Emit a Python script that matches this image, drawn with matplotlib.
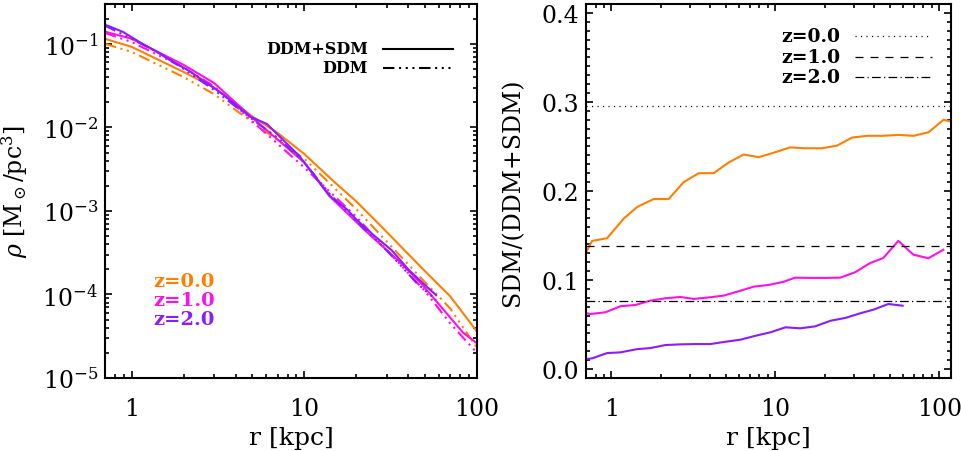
import numpy as np
import matplotlib
matplotlib.use("Agg")
import matplotlib.pyplot as plt
from matplotlib.ticker import LogLocator, MultipleLocator, FixedLocator, NullFormatter

plt.rcParams['font.family'] = ['DejaVu Serif']
plt.rcParams['mathtext.fontset'] = 'dejavuserif'

# ---- left panel: density profiles ----
r_z0 = [0.7, 1, 2, 3, 5, 7, 10, 15, 20, 30, 50, 70, 100]
rho_z0_all = [0.115, 0.092, 0.046, 0.030, 0.0135, 0.0086, 0.0048, 0.0022, 0.0013, 5.6e-4, 1.9e-4, 9.5e-5, 3.6e-5]
r_z0_ddm = [0.7, 1, 2, 3, 5, 10, 20, 30, 50, 70, 100]
rho_z0_ddm = [0.1, 0.080, 0.040, 0.025, 0.0115, 0.0042, 0.00105, 4.3e-4, 1.4e-4, 6.8e-5, 2.3e-5]

r_z1 = [0.7, 1, 2, 3, 5, 10, 14.6, 23, 35.7, 46.7, 61, 83, 100]
rho_z1_all = [0.14, 0.115, 0.056, 0.034, 0.013, 0.0038, 1.38e-3, 5.6e-4, 2.45e-4, 1.41e-4, 7.4e-5, 3.5e-5, 2.6e-5]
r_z1_ddm = [0.7, 1, 2, 3, 5, 10, 20, 30, 50, 70, 100]
rho_z1_ddm = [0.135, 0.105, 0.052, 0.031, 0.0118, 0.0033, 8.5e-4, 3.4e-4, 1.1e-4, 4.5e-5, 2.0e-5]

r_z2 = [0.7, 0.89, 1.11, 1.4, 1.59, 2.17, 3.37, 4.83, 6.07, 9.4, 11.8, 14.0, 17.6, 20, 25, 32, 40, 48, 58]
rho_z2_all = [0.17, 0.139, 0.105, 0.080, 0.068, 0.047, 0.025, 0.0135, 0.011, 0.0045, 0.0024, 0.0015, 0.00105,
              7.9e-4, 5.2e-4, 3.4e-4, 2.0e-4, 1.4e-4, 9.8e-5]
r_z2_ddm = [0.7, 1, 1.5, 2, 3, 5, 7, 10, 14, 18, 22, 28, 35, 45, 58]
rho_z2_ddm = [0.165, 0.115, 0.074, 0.050, 0.028, 0.0125, 0.0075, 0.0038, 0.0016, 9.5e-4, 6.2e-4, 3.9e-4, 2.4e-4,
              1.35e-4, 8.6e-5]

# ---- right panel: SDM fraction ----
r_f0 = [0.704, 0.763, 0.941, 1.188, 1.435, 1.81, 2.236, 2.76, 3.41, 4.21, 5.19, 6.41, 7.91, 9.77, 12.3,
        15.2, 19.3, 23.8, 29.4, 36.3, 44.8, 56.5, 69.7, 86.1, 106.3, 118.3]
f_z0 = [0.132, 0.144, 0.147, 0.169, 0.182, 0.191, 0.191, 0.210, 0.220, 0.220, 0.232, 0.241, 0.238, 0.243, 0.249,
        0.248, 0.248, 0.251, 0.260, 0.262, 0.262, 0.263, 0.262, 0.266, 0.280, 0.278]
r_f1 = [0.704, 0.745, 0.919, 1.135, 1.40, 1.73, 2.13, 2.63, 3.18, 4.01, 4.84, 6.12, 7.39, 9.1, 11.2,
        13.2, 16.4, 20.2, 24.9, 30.7, 37.8, 45.6, 56.3, 69.6, 85.9, 106]
f_z1 = [0.0627, 0.0619, 0.0638, 0.0706, 0.072, 0.0769, 0.0795, 0.081, 0.0788, 0.0807, 0.0825, 0.088, 0.0926,
        0.0945, 0.098, 0.1027, 0.1024, 0.1024, 0.1027, 0.1088, 0.119, 0.1248, 0.144, 0.1285, 0.1245, 0.134]
r_f2 = [0.704, 0.763, 0.942, 1.135, 1.434, 1.728, 2.133, 2.634, 3.252, 4.015, 4.957, 6.12, 7.56, 9.33, 11.52,
        14.2, 17.5, 21.7, 26.7, 33.0, 39.6, 48.9, 59.8]
f_z2 = [0.0113, 0.0121, 0.018, 0.0188, 0.0224, 0.0236, 0.027, 0.0278, 0.0281, 0.0281, 0.0307, 0.033, 0.0374,
        0.0413, 0.0469, 0.0458, 0.048, 0.0543, 0.0574, 0.0627, 0.0667, 0.0731, 0.0712]

f_cosmic = [0.295, 0.138, 0.0765]
z_labels = ['z=0.0', 'z=1.0', 'z=2.0']
colors = ['#ff7f00', '#ff10e8', '#8a1cff']
ddm_style = (0, (5.5, 2.2, 1, 2.2, 1, 2.2, 1, 2.2))
ref_styles = [(0, (0.9, 3.5)), (0, (6.4, 5.6)), (0, (7, 2.6, 1, 2.6))]

fig = plt.figure(figsize=(9.61, 4.52), dpi=100)
ax1 = fig.add_axes([0.1093, 0.1615, 0.387, 0.8274])
ax2 = fig.add_axes([0.6098, 0.1615, 0.3798, 0.8274])

lw = 1.5
ax1.plot(r_z0, rho_z0_all, color=colors[0], lw=lw)
ax1.plot(r_z0_ddm, rho_z0_ddm, color=colors[0], lw=lw, ls=ddm_style)
ax1.plot(r_z1, rho_z1_all, color=colors[1], lw=lw)
ax1.plot(r_z1_ddm, rho_z1_ddm, color=colors[1], lw=lw, ls=ddm_style)
ax1.plot(r_z2, rho_z2_all, color=colors[2], lw=lw)
ax1.plot(r_z2_ddm, rho_z2_ddm, color=colors[2], lw=lw, ls=ddm_style)

ax1.set_xscale('log')
ax1.set_yscale('log')
ax1.set_xlim(0.7, 100)
ax1.set_ylim(1e-5, 0.3)
ax1.set_xticks([1, 10, 100])
ax1.set_xticklabels(['1', '10', '100'])
ax1.set_xlabel('r [kpc]', fontsize=18, labelpad=4)
ax1.set_ylabel(r'$\rho$ [M$_\odot$/pc$^3$]', fontsize=17, labelpad=9)

# legend for line styles
ax1.text(0.707, 0.88, 'DDM+SDM', transform=ax1.transAxes, ha='right', va='center', fontsize=11.5, fontweight='bold')
ax1.text(0.707, 0.829, 'DDM', transform=ax1.transAxes, ha='right', va='center', fontsize=11.5, fontweight='bold')
ax1.plot([0.747, 0.935], [0.88, 0.88], color='black', lw=lw, transform=ax1.transAxes)
ax1.plot([0.747, 0.935], [0.829, 0.829], color='black', lw=lw, ls=ddm_style, transform=ax1.transAxes)

for i, lab in enumerate(z_labels):
    ax1.text(0.129, 0.259 - 0.051 * i, lab, color=colors[i], transform=ax1.transAxes,
             ha='left', va='center', fontsize=14, fontweight='bold')

ax2.plot(r_f0, f_z0, color=colors[0], lw=lw)
ax2.plot(r_f1, f_z1, color=colors[1], lw=lw)
ax2.plot(r_f2, f_z2, color=colors[2], lw=lw)
for fc, st in zip(f_cosmic, ref_styles):
    ax2.axhline(fc, color='black', lw=0.9, ls=st)

ax2.set_xscale('log')
ax2.set_xlim(0.7, 118)
ax2.set_ylim(-0.01, 0.41)
ax2.set_xticks([1, 10, 100])
ax2.set_xticklabels(['1', '10', '100'])
ax2.yaxis.set_major_locator(FixedLocator([0.0, 0.1, 0.2, 0.3, 0.4]))
ax2.set_yticklabels(['0.0', '0.1', '0.2', '0.3', '0.4'])
ax2.yaxis.set_minor_locator(MultipleLocator(0.01))
ax2.set_xlabel('r [kpc]', fontsize=18, labelpad=4)
ax2.set_ylabel('SDM/(DDM+SDM)', fontsize=17, labelpad=12)

for i, lab in enumerate(z_labels):
    y = 0.914 - 0.0545 * i
    ax2.text(0.696, y, lab, transform=ax2.transAxes, ha='right', va='center', fontsize=13.5, fontweight='bold')
    ax2.plot([0.737, 0.948], [y, y], color='black', lw=0.9, ls=ref_styles[i], transform=ax2.transAxes)

for ax in (ax1, ax2):
    ax.xaxis.set_minor_locator(LogLocator(base=10, subs=np.arange(2, 10)))
    ax.xaxis.set_minor_formatter(NullFormatter())
    ax.tick_params(which='both', direction='in', top=True, right=True, labelsize=17, width=1.2)
    ax.tick_params(which='major', length=5)
    ax.tick_params(which='minor', length=2.8)
    ax.tick_params(axis='x', which='major', pad=14)
    ax.tick_params(axis='y', which='major', pad=5)
    for s in ax.spines.values():
        s.set_linewidth(1.5)

fig.savefig('out.png', dpi=100)
